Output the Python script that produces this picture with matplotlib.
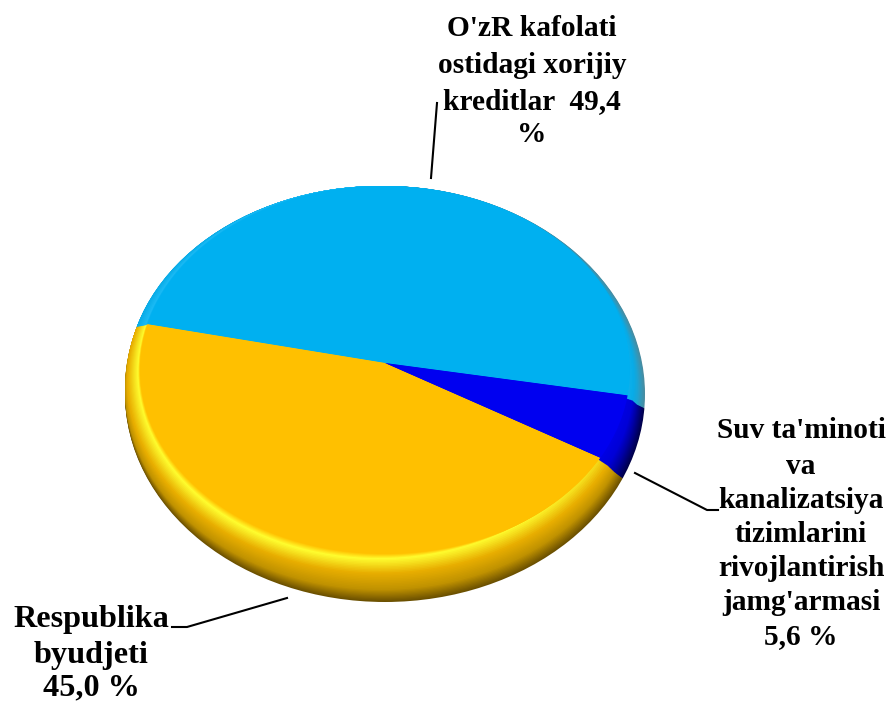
import matplotlib
matplotlib.use("Agg")
import matplotlib.pyplot as plt
import numpy as np
from matplotlib.colors import to_rgb
from matplotlib.patches import Ellipse

plt.rcParams['font.family'] = ['Liberation Serif', 'DejaVu Serif']

W, H = 888, 702
K = 1.32  # squash of the tilted pie

shares = [49.4, 45.0, 5.6]

label_top = ["O'zR kafolati", "ostidagi xorijiy", "kreditlar  49,4", "%"]
label_right = ["Suv ta'minoti", "va", "kanalizatsiya", "tizimlarini", "rivojlantirish", "jamg'armasi", "5,6 %"]
label_left = ["Respublika", "byudjeti", "45,0 %"]

# rim profile, outer edge to flat face
stops = [0, 1, 2, 3, 4]
bottoms = [602, 590, 574, 559, 554]
lefts = [125, 125, 127, 138, 140]
rights = [645, 638, 634, 618, 630]
cyan = ["#4a8ca0", "#1ca4d4", "#08ace8", "#1cbcf6", "#00b0f0"]
yellow = ["#6b5000", "#c09200", "#e8ae00", "#ffff30", "#ffc000"]
blue = ["#00004a", "#0000a0", "#0000d8", "#0000f0", "#0000f0"]


def y_(py):
    return (H - py) * K


def ramp(cols, t):
    rgb = np.array([to_rgb(c) for c in cols])
    return tuple(np.interp(t, stops, rgb[:, i]) for i in range(3))


fig = plt.figure(figsize=(W / 100, H / 100), dpi=100)
ax = fig.add_axes([0, 0, 1, 1])

top = 186
apex_x = 385
apex_y = 363

for t in np.linspace(0, 4, 41):
    bot = np.interp(t, stops, bottoms)
    le = np.interp(t, stops, lefts)
    ri = np.interp(t, stops, rights)
    cy = (top + bot) / 2
    ry = (bot - top) / 2
    shift = (554 - bot) * 0.22
    wedges, _ = ax.pie(shares, colors=[ramp(cyan, t), ramp(yellow, t), ramp(blue, t)],
                       startangle=-10, counterclock=True, radius=1500,
                       center=(apex_x, y_(apex_y - shift)), frame=False,
                       wedgeprops={"linewidth": 0})
    clip = Ellipse(((le + ri) / 2, y_(cy)), ri - le, 2 * ry * K, transform=ax.transData)
    for w in wedges:
        w.set_clip_on(True)
        w.set_clip_path(clip)

ax.set_xlim(0, W)
ax.set_ylim(0, H * K)
ax.set_aspect('auto')
ax.axis('off')

# leader lines
ax.plot([437, 431], [y_(103), y_(178)], color="black", lw=1.5)
ax.plot([635, 707, 718], [y_(473), y_(510), y_(510)], color="black", lw=1.5)
ax.plot([287, 187, 172], [y_(598), y_(627), y_(627)], color="black", lw=1.5)


def block(lines, x, ys, size):
    for s, py in zip(lines, ys):
        ax.text(x, y_(py), s, ha="center", va="center", fontsize=size, fontweight="bold", color="black")


block(label_top, 532, [29, 66, 102, 135], 21.2)
block(label_right, 801, [430, 466, 501, 535, 569, 603, 637], 21.2)
block(label_left, 91, [620, 656, 688], 23.2)

fig.savefig("out.png", dpi=100)
